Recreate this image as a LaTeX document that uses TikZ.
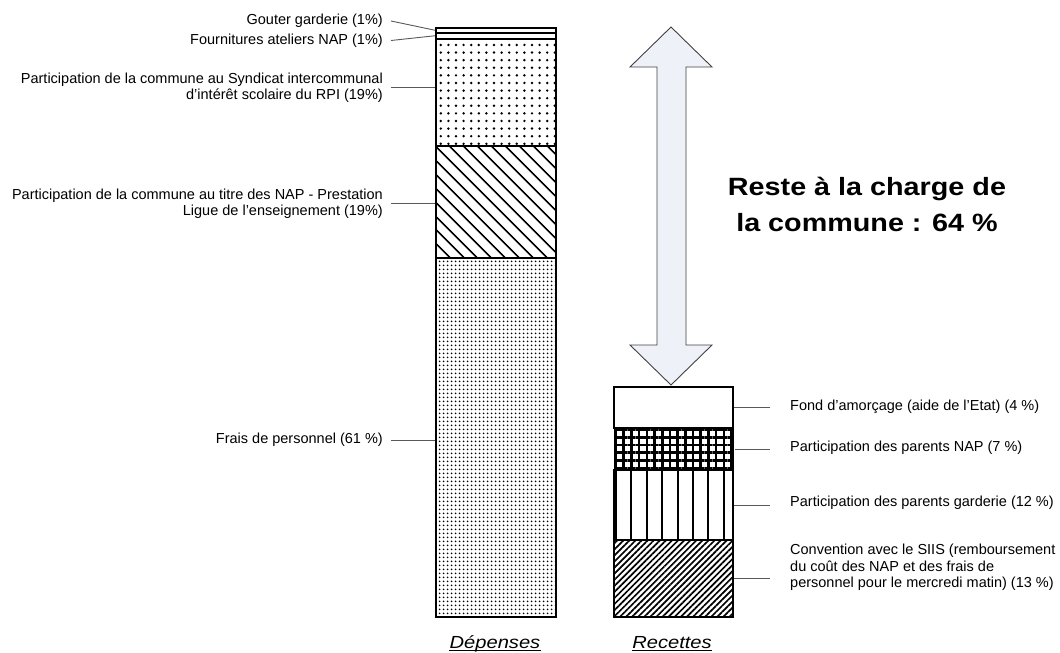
\documentclass[tikz,border=0pt]{standalone}
\usepackage{fontspec}
\setmainfont{Liberation Sans}
\newfontfamily\widesans[FakeStretch=1.15]{Liberation Sans}
\usetikzlibrary{patterns.meta}
\definecolor{arrowfill}{RGB}{238,242,248}

\begin{document}
\begin{tikzpicture}[x=1pt, y=-1pt,
  seg/.style={draw=black, line width=1.5pt, inner sep=0pt, anchor=north west},
  lab/.style={font=\fontsize{14.5}{16.5}\selectfont, inner sep=0pt},
  leader/.style={draw=black!65, line width=0.9pt}]
  \useasboundingbox (0,0) rectangle (1060,653);

  % Depenses
  \node[seg, minimum width=120pt, minimum height=5pt] (gout) at (435,27) {};
  \node[seg, minimum width=120pt, minimum height=6pt] (four) at (435,32) {};
  \node[seg, minimum width=120pt, minimum height=107pt,
    pattern={Dots[distance=7.6pt, radius=1.35pt]}] (synd) at (435,38) {};
  \node[seg, minimum width=120pt, minimum height=112pt,
    pattern={Lines[angle=-45, distance=10.5pt, line width=1.9pt]}] (nap) at (435,145) {};
  \node[seg, minimum width=120pt, minimum height=359pt,
    pattern={Dots[distance=4pt, radius=1.2pt]}] (pers) at (435,257) {};

  % Recettes
  \node[seg, minimum width=119pt, minimum height=41pt] (fond) at (613,386) {};
  \node[seg, minimum width=119pt, minimum height=42pt,
    pattern={Hatch[distance=7.7pt, line width=2.6pt]}] (pnap) at (613,427) {};
  \node[seg, minimum width=119pt, minimum height=70pt,
    pattern={Lines[angle=90, distance=15.4pt, line width=2pt]}] (gard) at (613,469) {};
  \node[seg, minimum width=119pt, minimum height=77pt,
    pattern={Lines[angle=45, distance=4.3pt, line width=1.7pt]}] (conv) at (613,539) {};

  % labels depenses
  \node[lab, anchor=east] (lgout) at (383,21) {Gouter garderie (1\%)};
  \node[lab, anchor=east] (lfour) at (383,40.5) {Fournitures ateliers NAP (1\%)};
  \node[lab, anchor=east, align=right] (lsynd) at (383,87.5)
    {Participation de la commune au Syndicat intercommunal\\d'intérêt scolaire du RPI (19\%)};
  \node[lab, anchor=east, align=right] (lnap) at (383,203.5)
    {Participation de la commune au titre des NAP - Prestation\\Ligue de l'enseignement (19\%)};
  \node[lab, anchor=east] (lpers) at (383,440) {Frais de personnel (61 \%)};

  \draw[leader] ([xshift=8pt]lgout.east) -- (gout.west);
  \draw[leader] ([xshift=8pt]lfour.east) -- (four.west);
  \draw[leader] ([xshift=8pt]lsynd.east) -- (lsynd.east -| synd.west);
  \draw[leader] ([xshift=8pt]lnap.east) -- (lnap.east -| nap.west);
  \draw[leader] ([xshift=8pt]lpers.east) -- (lpers.east -| pers.west);

  % labels recettes
  \node[lab, anchor=west] (lfond) at (790,407) {Fond d'amorçage (aide de l'Etat) (4 \%)};
  \node[lab, anchor=west] (lpnap) at (790,448) {Participation des parents NAP (7 \%)};
  \node[lab, anchor=west] (lgard) at (790,503) {Participation des parents garderie (12 \%)};
  \node[lab, anchor=west, align=left] (lconv) at (790,567.5)
    {Convention avec le SIIS (remboursement\\du coût des NAP et des frais de\\personnel pour le mercredi matin) (13 \%)};

  \draw[leader] (fond.east) -- ([xshift=-20pt]lfond.west |- fond.east);
  \draw[leader] (pnap.east) -- ([xshift=-20pt]lpnap.west |- pnap.east);
  \draw[leader] (gard.east) -- ([xshift=-20pt]lgard.west |- gard.east);
  \draw[leader] (conv.east) -- ([xshift=-20pt]lconv.west |- conv.east);

  % double arrow
  \draw[draw=black!75, line width=0.9pt, fill=arrowfill]
    (671,27) -- (712,67) -- (686,67) -- (686,345) -- (712,345) -- (671,385)
    -- (630,345) -- (657,345) -- (657,67) -- (630,67) -- cycle;
  \node[inner sep=0pt, align=center, font=\widesans\bfseries\fontsize{25}{36}\selectfont]
    (reste) at (867,204) {Reste à la charge de\\la commune : 64 \%};

  % titles
  \node[inner sep=0pt, anchor=base, font=\widesans\itshape\fontsize{17.5}{20}\selectfont]
    (dep) at (495,648) {Dépenses};
  \node[inner sep=0pt, anchor=base, font=\widesans\itshape\fontsize{17.5}{20}\selectfont]
    (rec) at (672,648) {Recettes};
  \draw[line width=0.8pt] ([yshift=-2.5pt]dep.base west) -- ([yshift=-2.5pt]dep.base east);
  \draw[line width=0.8pt] ([yshift=-2.5pt]rec.base west) -- ([yshift=-2.5pt]rec.base east);
\end{tikzpicture}
\end{document}
